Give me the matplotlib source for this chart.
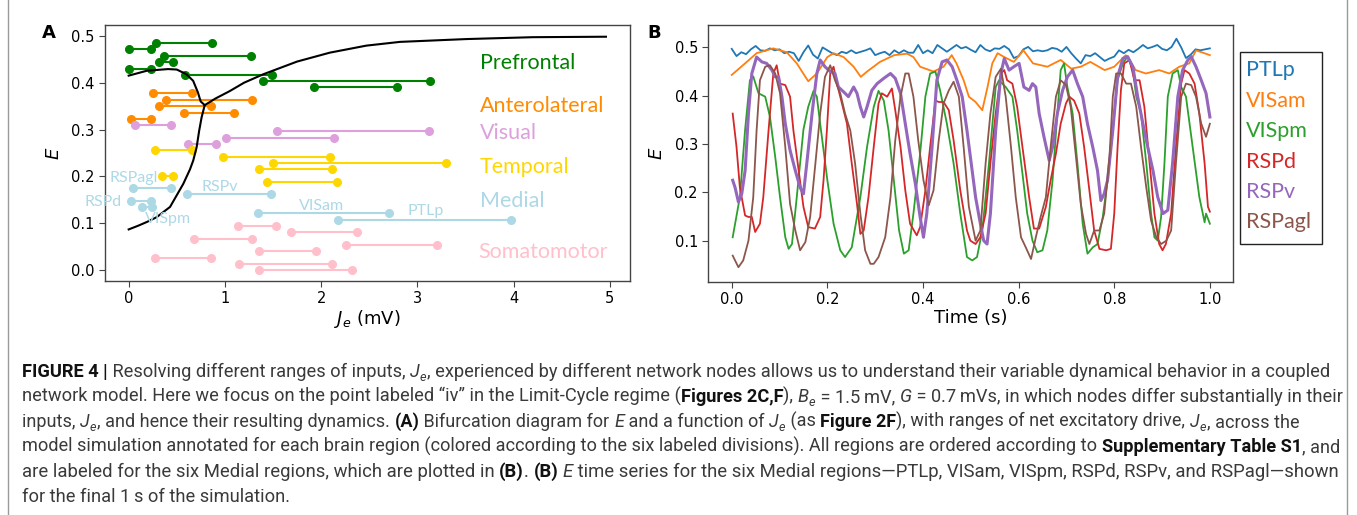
import matplotlib
matplotlib.use('Agg')
import matplotlib.pyplot as plt
from matplotlib import font_manager as fm
from matplotlib.font_manager import FontProperties
from matplotlib.patches import Rectangle
from matplotlib.lines import Line2D

# ---------------- Panel A data ----------------
group_names = ['Prefrontal', 'Anterolateral', 'Visual', 'Temporal', 'Medial', 'Somatomotor']
group_colors = ['green', 'darkorange', 'plum', 'gold', 'lightblue', 'pink']

prefrontal_E = [0.484, 0.471, 0.457, 0.444, 0.430, 0.417, 0.404, 0.390]
prefrontal_Jmin = [0.28, 0.00, 0.37, 0.315, 0.00, 0.59, 1.40, 1.93]
prefrontal_Jmax = [0.87, 0.23, 1.27, 0.46, 0.23, 1.49, 3.13, 2.79]

anterolateral_E = [0.377, 0.364, 0.350, 0.336, 0.323]
anterolateral_Jmin = [0.25, 0.39, 0.31, 0.57, 0.02]
anterolateral_Jmax = [0.66, 1.28, 0.86, 1.09, 0.23]

visual_E = [0.309, 0.296, 0.282, 0.269]
visual_Jmin = [0.065, 1.54, 1.01, 0.62]
visual_Jmax = [0.44, 3.12, 2.13, 0.91]

temporal_E = [0.256, 0.242, 0.228, 0.215, 0.202, 0.188]
temporal_Jmin = [0.27, 0.98, 1.50, 1.35, 0.35, 1.44]
temporal_Jmax = [0.66, 2.09, 3.30, 2.11, 0.46, 2.16]

medial_names = ['RSPagl', 'RSPv', 'RSPd', 'VISpm', 'VISam', 'PTLp']
medial_E = [0.175, 0.162, 0.148, 0.135, 0.121, 0.108]
medial_Jmin = [0.05, 0.61, 0.024, 0.135, 1.34, 2.18]
medial_Jmax = [0.44, 1.48, 0.23, 0.24, 2.71, 3.97]

somatomotor_E = [0.094, 0.081, 0.067, 0.054, 0.040, 0.027, 0.013, 0.0]
somatomotor_Jmin = [1.135, 1.685, 0.68, 2.26, 1.35, 0.27, 1.145, 1.35]
somatomotor_Jmax = [1.53, 2.37, 1.28, 3.20, 1.945, 0.86, 2.11, 2.32]

# bifurcation diagram branches
upper_left_J = [0.0, 0.19, 0.41, 0.50, 0.60, 0.67, 0.72, 0.748, 0.775, 0.79]
upper_left_E = [0.415, 0.4255, 0.429, 0.428, 0.418, 0.404, 0.379, 0.360, 0.355, 0.352]
upper_right_J = [0.79, 0.90, 1.05, 1.20, 1.40, 1.75, 2.09, 2.47, 2.82, 3.51, 4.20, 4.96]
upper_right_E = [0.352, 0.366, 0.382, 0.400, 0.418, 0.445, 0.464, 0.479, 0.487, 0.493, 0.497, 0.498]
lower_J = [0.0, 0.10, 0.19, 0.29, 0.43, 0.567, 0.637, 0.671, 0.706, 0.733, 0.758, 0.79]
lower_E = [0.087, 0.095, 0.103, 0.113, 0.135, 0.184, 0.215, 0.234, 0.262, 0.298, 0.326, 0.352]

# ---------------- Panel B data ----------------
series_names = ['PTLp', 'VISam', 'VISpm', 'RSPd', 'RSPv', 'RSPagl']
series_colors = ['tab:blue', 'tab:orange', 'tab:green', 'tab:red', 'tab:purple', 'tab:brown']

ptlp_t = [i / 100 for i in range(101)]
ptlp_E = [0.497, 0.482, 0.490, 0.486, 0.496, 0.503, 0.494, 0.493, 0.498, 0.494,
          0.496, 0.488, 0.491, 0.488, 0.472, 0.490, 0.504, 0.485, 0.477, 0.500,
          0.494, 0.488, 0.484, 0.491, 0.488, 0.494, 0.488, 0.491, 0.494, 0.498,
          0.484, 0.488, 0.491, 0.484, 0.494, 0.488, 0.494, 0.489, 0.489, 0.505,
          0.488, 0.494, 0.488, 0.505, 0.498, 0.491, 0.498, 0.505, 0.498, 0.501,
          0.495, 0.490, 0.505, 0.496, 0.492, 0.498, 0.497, 0.503, 0.496, 0.478,
          0.482, 0.496, 0.501, 0.492, 0.494, 0.492, 0.494, 0.499, 0.497, 0.491,
          0.501, 0.488, 0.477, 0.467, 0.484, 0.482, 0.488, 0.480, 0.472, 0.477,
          0.481, 0.494, 0.488, 0.495, 0.490, 0.497, 0.505, 0.498, 0.501, 0.505,
          0.497, 0.494, 0.501, 0.518, 0.500, 0.478, 0.485, 0.496, 0.494, 0.496,
          0.498]

visam_t = [0.0, 0.028, 0.052, 0.087, 0.115, 0.136, 0.16, 0.178, 0.2, 0.213, 0.234, 0.255,
           0.27, 0.283, 0.31, 0.34, 0.367, 0.38, 0.394, 0.422, 0.443, 0.46, 0.47, 0.485,
           0.496, 0.51, 0.524, 0.535, 0.545, 0.556, 0.57, 0.59, 0.61, 0.63, 0.66, 0.688,
           0.71, 0.73, 0.75, 0.78, 0.8, 0.824, 0.845, 0.866, 0.894, 0.915, 0.936, 0.957,
           0.971, 1.0]
visam_E = [0.443, 0.467, 0.488, 0.498, 0.49, 0.467, 0.43, 0.446, 0.48, 0.488, 0.48, 0.46,
           0.439, 0.45, 0.47, 0.484, 0.487, 0.48, 0.46, 0.45, 0.46, 0.484, 0.467, 0.432,
           0.398, 0.387, 0.37, 0.418, 0.467, 0.488, 0.48, 0.47, 0.494, 0.467, 0.46, 0.474,
           0.456, 0.46, 0.47, 0.453, 0.46, 0.484, 0.453, 0.446, 0.453, 0.446, 0.46, 0.467,
           0.494, 0.484]

vispm_t = [0.002, 0.017, 0.028, 0.038, 0.045, 0.056, 0.07, 0.08, 0.091, 0.101, 0.112, 0.119,
           0.126, 0.136, 0.15, 0.16, 0.171, 0.178, 0.185, 0.2, 0.213, 0.227, 0.237, 0.251,
           0.269, 0.283, 0.297, 0.307, 0.318, 0.328, 0.339, 0.35, 0.36, 0.37, 0.38, 0.394,
           0.405, 0.415, 0.426, 0.436, 0.45, 0.464, 0.478, 0.492, 0.503, 0.513, 0.524, 0.538,
           0.552, 0.559, 0.573, 0.587, 0.597, 0.608, 0.618, 0.629, 0.639, 0.65, 0.66, 0.671,
           0.681, 0.688, 0.695, 0.702, 0.713, 0.723, 0.734, 0.744, 0.755, 0.765, 0.776, 0.786,
           0.797, 0.807, 0.818, 0.828, 0.839, 0.846, 0.856, 0.867, 0.877, 0.884, 0.891, 0.898,
           0.905, 0.912, 0.922, 0.933, 0.94, 0.95, 0.964, 0.978, 0.989, 0.992, 1.0]
vispm_E = [0.107, 0.19, 0.33, 0.432, 0.44, 0.405, 0.398, 0.356, 0.273, 0.19, 0.107, 0.083,
           0.093, 0.19, 0.33, 0.377, 0.41, 0.398, 0.342, 0.225, 0.135, 0.08, 0.066, 0.086,
           0.19, 0.294, 0.377, 0.41, 0.39, 0.328, 0.225, 0.121, 0.073, 0.08, 0.156, 0.28,
           0.398, 0.446, 0.45, 0.41, 0.342, 0.26, 0.156, 0.066, 0.059, 0.066, 0.121, 0.26,
           0.418, 0.432, 0.418, 0.398, 0.328, 0.239, 0.156, 0.1, 0.076, 0.08, 0.121, 0.225,
           0.363, 0.453, 0.467, 0.418, 0.363, 0.26, 0.135, 0.073, 0.086, 0.093, 0.149, 0.225,
           0.328, 0.432, 0.467, 0.481, 0.453, 0.398, 0.363, 0.26, 0.156, 0.107, 0.1, 0.149,
           0.26, 0.398, 0.446, 0.453, 0.418, 0.398, 0.294, 0.19, 0.138, 0.156, 0.135]

rspd_t = [0.002, 0.01, 0.017, 0.028, 0.035, 0.042, 0.049, 0.059, 0.066, 0.077, 0.087, 0.094,
          0.101, 0.112, 0.122, 0.129, 0.14, 0.15, 0.16, 0.174, 0.185, 0.192, 0.199, 0.206,
          0.213, 0.22, 0.227, 0.241, 0.251, 0.262, 0.269, 0.276, 0.286, 0.297, 0.307, 0.314,
          0.325, 0.335, 0.342, 0.353, 0.363, 0.373, 0.387, 0.394, 0.405, 0.415, 0.426, 0.433,
          0.443, 0.454, 0.464, 0.478, 0.492, 0.499, 0.51, 0.52, 0.531, 0.541, 0.552, 0.563,
          0.57, 0.576, 0.587, 0.597, 0.608, 0.622, 0.632, 0.643, 0.657, 0.667, 0.678, 0.688,
          0.699, 0.706, 0.716, 0.727, 0.737, 0.748, 0.758, 0.769, 0.783, 0.793, 0.8, 0.807,
          0.814, 0.821, 0.832, 0.842, 0.853, 0.863, 0.874, 0.884, 0.894, 0.901, 0.908, 0.919,
          0.929, 0.94, 0.947, 0.957, 0.968, 0.978, 0.989, 0.996, 1.0]
rspd_E = [0.363, 0.294, 0.21, 0.152, 0.149, 0.149, 0.118, 0.135, 0.19, 0.328, 0.446, 0.463,
          0.425, 0.422, 0.398, 0.328, 0.245, 0.17, 0.128, 0.125, 0.149, 0.225, 0.328, 0.446,
          0.46, 0.425, 0.398, 0.342, 0.26, 0.176, 0.114, 0.121, 0.19, 0.294, 0.384, 0.405,
          0.398, 0.415, 0.37, 0.294, 0.204, 0.135, 0.111, 0.128, 0.204, 0.294, 0.39, 0.387,
          0.387, 0.37, 0.308, 0.204, 0.121, 0.1, 0.093, 0.107, 0.156, 0.26, 0.363, 0.446,
          0.453, 0.432, 0.425, 0.377, 0.294, 0.19, 0.125, 0.125, 0.17, 0.225, 0.28, 0.342,
          0.384, 0.398, 0.39, 0.363, 0.294, 0.204, 0.121, 0.083, 0.08, 0.083, 0.156, 0.294,
          0.412, 0.467, 0.474, 0.432, 0.432, 0.377, 0.26, 0.156, 0.093, 0.08, 0.093, 0.156,
          0.294, 0.425, 0.453, 0.446, 0.425, 0.363, 0.26, 0.17, 0.16]

rspv_t = [0.002, 0.007, 0.014, 0.021, 0.028, 0.035, 0.042, 0.052, 0.063, 0.073, 0.084, 0.091,
          0.098, 0.105, 0.112, 0.122, 0.133, 0.143, 0.15, 0.157, 0.168, 0.178, 0.185, 0.195,
          0.206, 0.216, 0.223, 0.234, 0.244, 0.255, 0.262, 0.269, 0.276, 0.283, 0.293, 0.304,
          0.318, 0.332, 0.342, 0.353, 0.363, 0.373, 0.384, 0.394, 0.401, 0.408, 0.419, 0.429,
          0.44, 0.45, 0.461, 0.471, 0.482, 0.492, 0.51, 0.52, 0.527, 0.534, 0.541, 0.552,
          0.563, 0.57, 0.58, 0.59, 0.601, 0.611, 0.622, 0.629, 0.636, 0.643, 0.653, 0.664,
          0.671, 0.681, 0.692, 0.702, 0.713, 0.723, 0.734, 0.744, 0.755, 0.765, 0.772, 0.779,
          0.786, 0.797, 0.807, 0.818, 0.828, 0.839, 0.849, 0.86, 0.87, 0.881, 0.891, 0.902,
          0.912, 0.922, 0.933, 0.943, 0.954, 0.961, 0.971, 0.982, 0.992, 1.0]
rspv_E = [0.225, 0.21, 0.18, 0.197, 0.245, 0.363, 0.446, 0.48, 0.47, 0.467, 0.453, 0.439,
          0.439, 0.398, 0.342, 0.287, 0.245, 0.21, 0.197, 0.26, 0.363, 0.446, 0.474, 0.46,
          0.45, 0.446, 0.418, 0.408, 0.398, 0.418, 0.405, 0.377, 0.356, 0.377, 0.411, 0.425,
          0.436, 0.446, 0.436, 0.405, 0.342, 0.28, 0.218, 0.149, 0.107, 0.156, 0.294, 0.432,
          0.47, 0.474, 0.46, 0.432, 0.398, 0.328, 0.19, 0.135, 0.1, 0.093, 0.156, 0.328,
          0.446, 0.477, 0.453, 0.46, 0.467, 0.418, 0.411, 0.425, 0.418, 0.363, 0.315, 0.266,
          0.294, 0.363, 0.411, 0.439, 0.453, 0.425, 0.398, 0.342, 0.294, 0.245, 0.183, 0.197,
          0.225, 0.328, 0.439, 0.477, 0.481, 0.46, 0.398, 0.342, 0.294, 0.245, 0.19, 0.156,
          0.163, 0.26, 0.398, 0.453, 0.474, 0.481, 0.46, 0.432, 0.405, 0.356]

rspagl_t = [0.002, 0.014, 0.024, 0.035, 0.045, 0.052, 0.059, 0.07, 0.08, 0.091, 0.101, 0.112,
            0.122, 0.133, 0.143, 0.154, 0.164, 0.175, 0.185, 0.195, 0.206, 0.216, 0.227, 0.237,
            0.248, 0.258, 0.269, 0.279, 0.29, 0.297, 0.307, 0.321, 0.332, 0.342, 0.353, 0.363,
            0.37, 0.38, 0.39, 0.401, 0.412, 0.422, 0.433, 0.443, 0.454, 0.464, 0.475, 0.485,
            0.496, 0.51, 0.52, 0.531, 0.541, 0.552, 0.563, 0.573, 0.584, 0.594, 0.605, 0.615,
            0.626, 0.636, 0.646, 0.657, 0.667, 0.678, 0.688, 0.699, 0.709, 0.72, 0.73, 0.741,
            0.748, 0.758, 0.769, 0.779, 0.79, 0.797, 0.804, 0.814, 0.825, 0.835, 0.846, 0.856,
            0.867, 0.877, 0.888, 0.898, 0.909, 0.919, 0.929, 0.94, 0.95, 0.961, 0.971, 0.982,
            0.992, 1.0]
rspagl_E = [0.069, 0.045, 0.059, 0.1, 0.19, 0.328, 0.432, 0.46, 0.463, 0.446, 0.405, 0.294,
            0.176, 0.121, 0.08, 0.097, 0.149, 0.26, 0.363, 0.439, 0.463, 0.432, 0.405, 0.363,
            0.328, 0.26, 0.156, 0.08, 0.052, 0.052, 0.066, 0.107, 0.19, 0.308, 0.398, 0.446,
            0.446, 0.398, 0.308, 0.225, 0.173, 0.204, 0.308, 0.384, 0.411, 0.429, 0.398, 0.294,
            0.17, 0.1, 0.121, 0.26, 0.363, 0.439, 0.456, 0.398, 0.294, 0.19, 0.107, 0.086,
            0.062, 0.107, 0.149, 0.19, 0.294, 0.398, 0.432, 0.422, 0.377, 0.273, 0.176, 0.114,
            0.093, 0.121, 0.121, 0.156, 0.273, 0.398, 0.446, 0.446, 0.425, 0.425, 0.377, 0.294,
            0.21, 0.142, 0.107, 0.093, 0.1, 0.121, 0.26, 0.398, 0.425, 0.422, 0.398, 0.342,
            0.315, 0.342]

xticks_A = [0, 1, 2, 3, 4, 5]
yticks_A = [0.0, 0.1, 0.2, 0.3, 0.4, 0.5]
xticks_B = [0.0, 0.2, 0.4, 0.6, 0.8, 1.0]
yticks_B = [0.1, 0.2, 0.3, 0.4, 0.5]

# ---------------- fonts ----------------
def have(name):
    try:
        fm.findfont(FontProperties(family=name), fallback_to_default=False)
        return True
    except Exception:
        return False

label_font = 'Lato' if have('Lato') else 'DejaVu Sans'
cap_font = 'Liberation Sans Narrow' if have('Liberation Sans Narrow') else ('Roboto' if have('Roboto') else 'DejaVu Sans')

# ---------------- figure ----------------
W, H = 1357, 515
fig = plt.figure(figsize=(W / 100, H / 100), dpi=100)
fig.patch.set_facecolor('white')

def rect(l, t, r, b):
    return [l / W, 1 - b / H, (r - l) / W, (b - t) / H]

axA = fig.add_axes(rect(105, 25, 630, 281))
axB = fig.add_axes(rect(708.3, 24.7, 1233.3, 281.7))
spine_col = '#444444'
for ax in (axA, axB):
    for s in ax.spines.values():
        s.set_color(spine_col)
        s.set_linewidth(1.0)
    ax.tick_params(labelsize=10.5, color=spine_col, length=4)

# ----- panel A -----
for J, E in ((upper_left_J, upper_left_E), (upper_right_J, upper_right_E), (lower_J, lower_E)):
    axA.plot(J, E, color='black', lw=1.5, zorder=3)

groups = [
    (prefrontal_E, prefrontal_Jmin, prefrontal_Jmax),
    (anterolateral_E, anterolateral_Jmin, anterolateral_Jmax),
    (visual_E, visual_Jmin, visual_Jmax),
    (temporal_E, temporal_Jmin, temporal_Jmax),
    (medial_E, medial_Jmin, medial_Jmax),
    (somatomotor_E, somatomotor_Jmin, somatomotor_Jmax),
]
for (Es, J0, J1), col in zip(groups, group_colors):
    for e, a, b in zip(Es, J0, J1):
        axA.plot([a, b], [e, e], '-o', color=col, lw=1.5, ms=5.5, mec=col, zorder=2)

group_label_pos = [(3.65, 0.4415), (3.65, 0.350), (3.65, 0.292), (3.65, 0.220), (3.65, 0.1475), (3.63, 0.039)]
for name, col, (x, y) in zip(group_names, group_colors, group_label_pos):
    axA.text(x, y, name, color=col, fontsize=15.5, family=label_font, ha='left', va='center')

medial_label_pos = {'RSPagl': (0.30, 0.196, 'right'), 'RSPv': (0.76, 0.177, 'left'),
                    'RSPd': (-0.07, 0.145, 'right'), 'VISpm': (0.17, 0.1085, 'left'),
                    'VISam': (1.77, 0.136, 'left'), 'PTLp': (2.90, 0.126, 'left')}
for name in medial_names:
    x, y, ha = medial_label_pos[name]
    axA.text(x, y, name, color='lightblue', fontsize=11.5, family=label_font, ha=ha, va='center')

axA.set_xlim(-0.246, 5.21)
axA.set_ylim(-0.023, 0.523)
axA.set_xticks(xticks_A)
axA.set_yticks(yticks_A)
axA.set_yticklabels([f'{v:.1f}' for v in yticks_A])
axA.set_xlabel(r'$J_e$ (mV)', fontsize=13, labelpad=1)
axA.set_ylabel(r'$E$', fontsize=13, labelpad=6)

# ----- panel B -----
series = [(ptlp_t, ptlp_E), (visam_t, visam_E), (vispm_t, vispm_E),
          (rspd_t, rspd_E), (rspv_t, rspv_E), (rspagl_t, rspagl_E)]
for (t, E), col, name in zip(series, series_colors, series_names):
    axB.plot(t, E, color=col, lw=2.2 if name == 'RSPv' else 1.3)

axB.set_xlim(-0.049, 1.049)
axB.set_ylim(0.015, 0.547)
axB.set_xticks(xticks_B)
axB.set_xticklabels([f'{v:.1f}' for v in xticks_B])
axB.set_yticks(yticks_B)
axB.set_yticklabels([f'{v:.1f}' for v in yticks_B])
axB.set_xlabel('Time (s)', fontsize=13, labelpad=1)
axB.set_ylabel(r'$E$', fontsize=13, labelpad=6)

# manual legend with coloured text
fig.add_artist(Rectangle((1240 / W, 1 - 244.3 / H), (1321.7 - 1240) / W, (244.3 - 51.7) / H,
                         transform=fig.transFigure, fill=False, edgecolor='#222222', lw=1.0))
leg_y = [70, 101, 131, 162.3, 191.7, 221.7]
for name, col, y in zip(series_names, series_colors, leg_y):
    fig.text(1246 / W, 1 - y / H, name, color=col, fontsize=15.5, family=label_font,
             ha='left', va='center')

# panel letters
fig.text(49 / W, 1 - 33 / H, 'A', fontsize=13, weight='bold', ha='center', va='center')
fig.text(654 / W, 1 - 33 / H, 'B', fontsize=13, weight='bold', ha='center', va='center')

# page frame lines at the left and right edges
for xp in (8, 1347):
    fig.add_artist(Line2D([xp / W, xp / W], [0, 1], transform=fig.transFigure,
                          color='#9a9a9a', lw=1.0))

# ---------------- caption ----------------
renderer = fig.canvas.get_renderer()
R, B, I, S = 'r', 'b', 'i', 'sub'
caption_lines = [
    [("FIGURE 4 |", B), (" Resolving different ranges of inputs, ", R), ("J", I), ("e", S),
     (", experienced by different network nodes allows us to understand their variable dynamical behavior in a coupled", R)],
    [("network model. Here we focus on the point labeled \u201civ\u201d in the Limit-Cycle regime (", R),
     ("Figures 2C,F", B), ("), ", R), ("B", I), ("e", S), (" = 1.5\u2009mV, ", R), ("G", I),
     (" = 0.7\u2009mVs, in which nodes differ substantially in their", R)],
    [("inputs, ", R), ("J", I), ("e", S), (", and hence their resulting dynamics. ", R), ("(A)", B),
     (" Bifurcation diagram for ", R), ("E", I), (" and a function of ", R), ("J", I), ("e", S),
     (" (as ", R), ("Figure 2F", B), ("), with ranges of net excitatory drive, ", R), ("J", I), ("e", S),
     (", across the", R)],
    [("model simulation annotated for each brain region (colored according to the six labeled divisions). All regions are ordered according to ", R),
     ("Supplementary Table S1", B), (", and", R)],
    [("are labeled for the six Medial regions, which are plotted in ", R), ("(B)", B), (". ", R), ("(B)", B),
     (" ", R), ("E", I), (" time series for the six Medial regions\u2014PTLp, VISam, VISpm, RSPd, RSPv, and RSPagl\u2014shown", R)],
    [("for the final 1\u2009s of the simulation.", R)],
]
# right end (px) of each caption line in the reference; None = use the first line's size
caption_line_ends = [1325, 1338, 1288, 1334, 1330, None]

def fprops(style, size):
    fam = [cap_font, 'DejaVu Sans']
    if style == B:
        return FontProperties(family=fam, weight='bold', size=size)
    if style == I:
        return FontProperties(family=fam, style='italic', size=size)
    if style == S:
        return FontProperties(family=fam, style='italic', size=size * 0.7)
    return FontProperties(family=fam, size=size)

def width_of(s, fp):
    t1 = fig.text(0, 0, 'x' + s + 'x', fontproperties=fp)
    w1 = t1.get_window_extent(renderer).width
    t1.remove()
    t2 = fig.text(0, 0, 'xx', fontproperties=fp)
    w2 = t2.get_window_extent(renderer).width
    t2.remove()
    return w1 - w2

def line_width(runs, size):
    return sum(width_of(s, fprops(st, size)) + (1.0 if st == S else 0) for s, st in runs)

base = 12.0
cap_x0 = 22
main_size = base * (caption_line_ends[0] - cap_x0) / line_width(caption_lines[0], base)

baselines = [377, 402, 427, 452, 477, 502]
for runs, yb, xend in zip(caption_lines, baselines, caption_line_ends):
    size = main_size if xend is None else base * (xend - cap_x0) / line_width(runs, base)
    x = cap_x0
    for s, st in runs:
        fp = fprops(st, size)
        dy = 0.22 * size * 100 / 72 if st == S else 0
        col = '#111111' if st == B else '#3a3a3a'
        fig.text(x / W, 1 - (yb + dy) / H, s, fontproperties=fp, color=col,
                 ha='left', va='baseline')
        x += width_of(s, fp)
        if st == S:
            x += 1.0

fig.savefig('out.png', dpi=100, facecolor='white')
